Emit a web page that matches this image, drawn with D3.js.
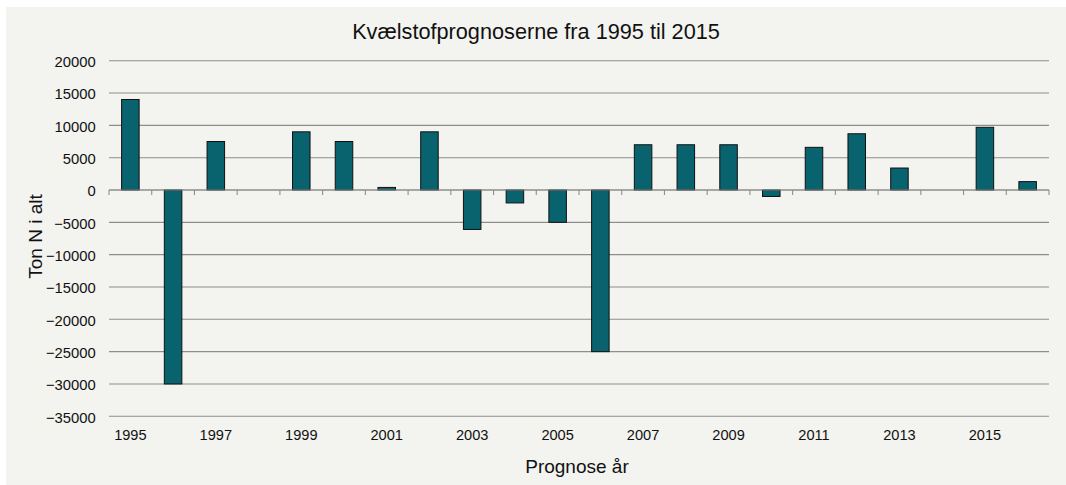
<!DOCTYPE html>
<html>
<head>
<meta charset="utf-8">
<script src="https://cdn.jsdelivr.net/npm/d3@7"></script>
<style>
  html, body { margin: 0; padding: 0; background: #ffffff; }
  svg { display: block; }
  text { font-family: "Liberation Sans", Arial, sans-serif; fill: #111; }
</style>
</head>
<body>
<svg id="chart" width="1066" height="485"></svg>
<script>
// ---- data ----
const years = ["1995","1996","1997","1998","1999","2000","2001","2002","2003","2004","2005",
               "2006","2007","2008","2009","2010","2011","2012","2013","2014","2015","2016"];
const values = [14000, -30000, 7500, 0, 9000, 7500, 400, 9000, -6100, -2000, -5000,
                -25000, 7000, 7000, 7000, -1000, 6600, 8700, 3400, 0, 9700, 1300];
const yTicks = [20000, 15000, 10000, 5000, 0, -5000, -10000, -15000, -20000, -25000, -30000, -35000];
const xLabels = ["1995","1997","1999","2001","2003","2005","2007","2009","2011","2013","2015"];
const title = "Kvælstofprognoserne fra 1995 til 2015";
const xTitle = "Prognose år";
const yTitle = "Ton N i alt";

// ---- layout ----
const W = 1066, H = 485;
const plot = { left: 109, right: 1049, top: 60.7, bottom: 416.3 };

const svg = d3.select("#chart");

svg.append("rect")
  .attr("x", 6).attr("y", 7)
  .attr("width", W - 6).attr("height", H - 7)
  .attr("fill", "#f3f3ef");

const y = d3.scaleLinear()
  .domain([-35000, 20000])
  .range([plot.bottom, plot.top]);

const slot = d3.scaleBand()
  .domain(years)
  .range([plot.left, plot.right])
  .padding(0);

const x = d3.scaleBand()
  .domain(years)
  .range([plot.left, plot.right])
  .paddingInner(0.59)
  .paddingOuter(0.295);

// gridlines
svg.append("g").selectAll("line")
  .data(yTicks)
  .join("line")
  .attr("x1", plot.left).attr("x2", plot.right)
  .attr("y1", d => y(d)).attr("y2", d => y(d))
  .attr("stroke", "#8e8e8e")
  .attr("stroke-width", 1.1);

// y tick labels via axis
const yAxis = d3.axisLeft(y)
  .tickValues(yTicks)
  .tickFormat(d3.format("d"))
  .tickSize(0)
  .tickPadding(0);

const gy = svg.append("g")
  .attr("transform", `translate(${95.7},0)`)
  .call(yAxis);
gy.select(".domain").remove();
gy.selectAll("text")
  .attr("font-family", "Liberation Sans, Arial, sans-serif")
  .attr("font-size", "14.8px")
  .attr("fill", "#111")
  .attr("dy", "0.4em");

// bars
svg.append("g").selectAll("rect")
  .data(years.map((yr, i) => ({ yr, v: values[i] })).filter(d => d.v !== 0))
  .join("rect")
  .attr("x", d => x(d.yr))
  .attr("width", x.bandwidth())
  .attr("y", d => y(Math.max(0, d.v)))
  .attr("height", d => Math.abs(y(d.v) - y(0)))
  .attr("fill", "#08636f")
  .attr("stroke", "#111")
  .attr("stroke-width", 1);

// category axis line and ticks at slot boundaries
const y0 = y(0);
svg.append("line")
  .attr("x1", plot.left).attr("x2", plot.right)
  .attr("y1", y0).attr("y2", y0)
  .attr("stroke", "#8e8e8e").attr("stroke-width", 1.1);

const boundaries = years.map(d => slot(d)).concat([slot.range()[1]]);
svg.append("g").selectAll("line")
  .data(boundaries)
  .join("line")
  .attr("x1", d => d).attr("x2", d => d)
  .attr("y1", y0).attr("y2", y0 + 5)
  .attr("stroke", "#8e8e8e").attr("stroke-width", 1.1);

// x labels
svg.append("g").selectAll("text")
  .data(xLabels)
  .join("text")
  .attr("x", d => slot(d) + slot.bandwidth() / 2)
  .attr("y", 440.3)
  .attr("text-anchor", "middle")
  .attr("font-size", "14.6px")
  .text(d => d);

// title
svg.append("text")
  .attr("x", 536)
  .attr("y", 39.3)
  .attr("text-anchor", "middle")
  .attr("font-size", "21.7px")
  .text(title);

// x title
svg.append("text")
  .attr("x", (plot.left + plot.right) / 2 - 2)
  .attr("y", 473.3)
  .attr("text-anchor", "middle")
  .attr("font-size", "19px")
  .text(xTitle);

// y title
svg.append("text")
  .attr("transform", `translate(41.7, ${(plot.top + plot.bottom) / 2 - 2}) rotate(-90)`)
  .attr("text-anchor", "middle")
  .attr("font-size", "19px")
  .text(yTitle);
</script>
</body>
</html>
